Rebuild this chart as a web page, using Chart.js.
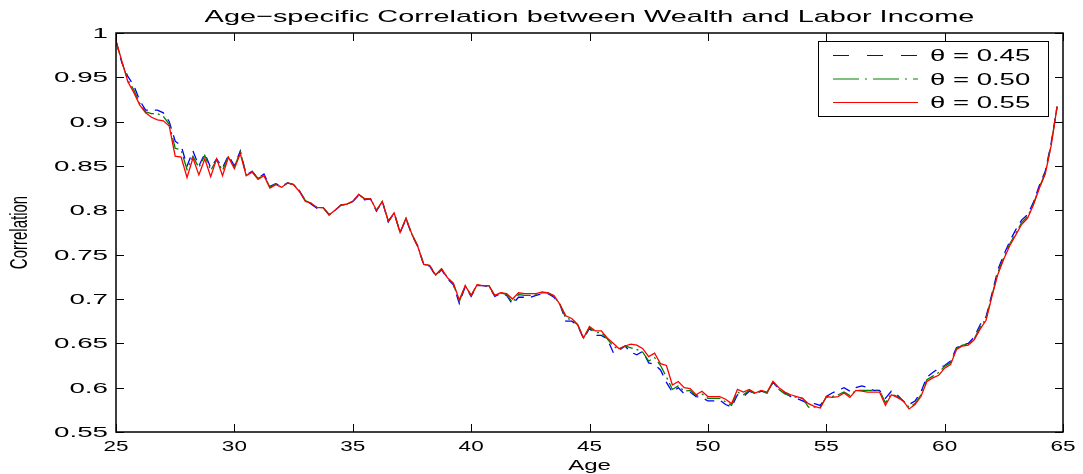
<!DOCTYPE html>
<html>
<head>
<meta charset="utf-8">
<script src="https://cdn.jsdelivr.net/npm/chart.js@4.4.0/dist/chart.umd.min.js"></script>
<style>
  html, body { margin: 0; padding: 0; background: #fff; }
</style>
</head>
<body>
<canvas id="chart" width="1083" height="474"></canvas>
<script>
// quarterly ages, 25 to 64.75
const ages = [
  25, 25.25, 25.5, 25.75, 26, 26.25, 26.5, 26.75, 27, 27.25, 27.5, 27.75,
  28, 28.25, 28.5, 28.75, 29, 29.25, 29.5, 29.75, 30, 30.25, 30.5, 30.75,
  31, 31.25, 31.5, 31.75, 32, 32.25, 32.5, 32.75, 33, 33.25, 33.5, 33.75,
  34, 34.25, 34.5, 34.75, 35, 35.25, 35.5, 35.75, 36, 36.25, 36.5, 36.75,
  37, 37.25, 37.5, 37.75, 38, 38.25, 38.5, 38.75, 39, 39.25, 39.5, 39.75,
  40, 40.25, 40.5, 40.75, 41, 41.25, 41.5, 41.75, 42, 42.25, 42.5, 42.75,
  43, 43.25, 43.5, 43.75, 44, 44.25, 44.5, 44.75, 45, 45.25, 45.5, 45.75,
  46, 46.25, 46.5, 46.75, 47, 47.25, 47.5, 47.75, 48, 48.25, 48.5, 48.75,
  49, 49.25, 49.5, 49.75, 50, 50.25, 50.5, 50.75, 51, 51.25, 51.5, 51.75,
  52, 52.25, 52.5, 52.75, 53, 53.25, 53.5, 53.75, 54, 54.25, 54.5, 54.75,
  55, 55.25, 55.5, 55.75, 56, 56.25, 56.5, 56.75, 57, 57.25, 57.5, 57.75,
  58, 58.25, 58.5, 58.75, 59, 59.25, 59.5, 59.75, 60, 60.25, 60.5, 60.75,
  61, 61.25, 61.5, 61.75, 62, 62.25, 62.5, 62.75, 63, 63.25, 63.5, 63.75,
  64, 64.25, 64.5, 64.75
];

// theta = 0.45 (blue dashed)
const corr045 = [
  0.991, 0.966, 0.951, 0.941, 0.924, 0.913, 0.913, 0.913, 0.910, 0.900, 0.878, 0.873,
  0.850, 0.867, 0.850, 0.864, 0.848, 0.858, 0.848, 0.862, 0.850, 0.867, 0.840, 0.844,
  0.836, 0.841, 0.827, 0.830, 0.827, 0.831, 0.829, 0.822, 0.811, 0.807, 0.802, 0.803,
  0.795, 0.800, 0.806, 0.807, 0.810, 0.817, 0.812, 0.813, 0.799, 0.810, 0.787, 0.797,
  0.775, 0.790, 0.772, 0.759, 0.738, 0.737, 0.726, 0.733, 0.723, 0.716, 0.695, 0.714,
  0.703, 0.715, 0.715, 0.714, 0.703, 0.706, 0.704, 0.694, 0.702, 0.702, 0.702, 0.704,
  0.706, 0.706, 0.702, 0.694, 0.675, 0.675, 0.670, 0.655, 0.667, 0.659, 0.659, 0.655,
  0.640, 0.642, 0.647, 0.640, 0.637, 0.641, 0.628, 0.626, 0.620, 0.606, 0.595, 0.600,
  0.593, 0.595, 0.590, 0.589, 0.585, 0.585, 0.586, 0.581, 0.578, 0.592, 0.590, 0.596,
  0.593, 0.596, 0.594, 0.606, 0.599, 0.594, 0.590, 0.588, 0.585, 0.582, 0.582, 0.580,
  0.590, 0.594, 0.597, 0.600, 0.596, 0.600, 0.602, 0.600, 0.597, 0.597, 0.588, 0.596,
  0.592, 0.585, 0.581, 0.585, 0.595, 0.612, 0.617, 0.622, 0.625, 0.630, 0.645, 0.648,
  0.650, 0.657, 0.671, 0.680, 0.706, 0.733, 0.750, 0.765, 0.778, 0.789, 0.795, 0.809,
  0.828, 0.844, 0.876, 0.917
];

// theta = 0.50 (green dash-dot)
const corr050 = [
  0.991, 0.967, 0.947, 0.936, 0.921, 0.911, 0.909, 0.909, 0.906, 0.897, 0.870, 0.868,
  0.846, 0.861, 0.848, 0.862, 0.845, 0.857, 0.845, 0.861, 0.849, 0.866, 0.840, 0.844,
  0.836, 0.840, 0.826, 0.830, 0.826, 0.831, 0.829, 0.822, 0.811, 0.808, 0.803, 0.803,
  0.795, 0.800, 0.806, 0.807, 0.810, 0.818, 0.813, 0.813, 0.800, 0.810, 0.788, 0.797,
  0.775, 0.791, 0.773, 0.760, 0.739, 0.738, 0.727, 0.734, 0.724, 0.717, 0.697, 0.715,
  0.704, 0.716, 0.715, 0.715, 0.704, 0.707, 0.705, 0.696, 0.705, 0.704, 0.704, 0.705,
  0.707, 0.707, 0.703, 0.694, 0.678, 0.677, 0.671, 0.656, 0.668, 0.662, 0.662, 0.655,
  0.647, 0.643, 0.647, 0.645, 0.643, 0.640, 0.630, 0.634, 0.625, 0.612, 0.598, 0.602,
  0.596, 0.597, 0.591, 0.593, 0.588, 0.588, 0.588, 0.584, 0.580, 0.595, 0.592, 0.597,
  0.593, 0.596, 0.594, 0.606, 0.598, 0.593, 0.591, 0.589, 0.588, 0.578, 0.578, 0.578,
  0.589, 0.590, 0.592, 0.595, 0.591, 0.597, 0.597, 0.597, 0.597, 0.597, 0.583, 0.593,
  0.590, 0.585, 0.578, 0.582, 0.592, 0.609, 0.613, 0.617, 0.624, 0.628, 0.644, 0.648,
  0.649, 0.655, 0.668, 0.678, 0.704, 0.730, 0.747, 0.762, 0.774, 0.786, 0.793, 0.807,
  0.826, 0.842, 0.874, 0.917
];

// theta = 0.55 (red solid)
const corr055 = [
  0.991, 0.968, 0.945, 0.933, 0.919, 0.910, 0.905, 0.902, 0.901, 0.895, 0.861, 0.860,
  0.837, 0.859, 0.840, 0.858, 0.838, 0.858, 0.839, 0.860, 0.847, 0.864, 0.839, 0.843,
  0.835, 0.839, 0.825, 0.829, 0.826, 0.831, 0.829, 0.821, 0.810, 0.808, 0.803, 0.803,
  0.795, 0.800, 0.806, 0.807, 0.810, 0.818, 0.813, 0.813, 0.800, 0.810, 0.788, 0.797,
  0.775, 0.791, 0.773, 0.759, 0.739, 0.738, 0.727, 0.734, 0.724, 0.718, 0.699, 0.715,
  0.704, 0.716, 0.715, 0.715, 0.704, 0.707, 0.706, 0.700, 0.707, 0.706, 0.706, 0.706,
  0.708, 0.707, 0.704, 0.694, 0.681, 0.678, 0.671, 0.656, 0.669, 0.664, 0.664, 0.656,
  0.650, 0.644, 0.647, 0.649, 0.648, 0.644, 0.635, 0.639, 0.627, 0.625, 0.603, 0.607,
  0.600, 0.599, 0.592, 0.596, 0.590, 0.590, 0.590, 0.587, 0.582, 0.598, 0.595, 0.598,
  0.594, 0.597, 0.595, 0.607, 0.600, 0.595, 0.592, 0.590, 0.588, 0.582, 0.579, 0.577,
  0.590, 0.589, 0.590, 0.594, 0.589, 0.597, 0.596, 0.595, 0.595, 0.595, 0.580, 0.592,
  0.589, 0.585, 0.576, 0.581, 0.590, 0.607, 0.611, 0.614, 0.622, 0.626, 0.643, 0.647,
  0.648, 0.654, 0.666, 0.676, 0.703, 0.728, 0.745, 0.760, 0.772, 0.784, 0.791, 0.806,
  0.825, 0.841, 0.873, 0.917
];

const seriesLabels = ['\u03b8 = 0.45', '\u03b8 = 0.50', '\u03b8 = 0.55'];
const xTicks = [25, 30, 35, 40, 45, 50, 55, 60, 65];
const yTicks = [0.55, 0.6, 0.65, 0.7, 0.75, 0.8, 0.85, 0.9, 0.95, 1];
const yTickLabels = ['0.55', '0.6', '0.65', '0.7', '0.75', '0.8', '0.85', '0.9', '0.95', '1'];

const titleText = 'Age\u2212specific Correlation between Wealth and Labor Income';
const FONT = '"Liberation Sans", Arial, sans-serif';

const styles = [
  { color: '#0000ff', dash: [10, 7], legendDash: [16, 18] },
  { color: '#008000', dash: [14, 4, 2, 4], legendDash: [26, 6, 2, 6] },
  { color: '#ff0000', dash: [], legendDash: [] }
];

function toPoints(vals) {
  return ages.map((a, i) => ({ x: a, y: vals[i] }));
}

// text squeezed/stretched horizontally like the original figure
function wideText(ctx, text, x, y, sx, align, baseline) {
  ctx.save();
  ctx.translate(x, y);
  ctx.scale(sx, 1);
  ctx.textAlign = align;
  ctx.textBaseline = baseline || 'alphabetic';
  ctx.fillText(text, 0, 0);
  ctx.restore();
}

const matlabFrame = {
  id: 'matlabFrame',
  afterDraw(chart) {
    const ctx = chart.ctx;
    const a = chart.chartArea;
    const xs = chart.scales.x, ys = chart.scales.y;
    ctx.save();
    ctx.fillStyle = '#000';
    ctx.strokeStyle = '#000';

    // box
    ctx.lineWidth = 1.5;
    ctx.strokeRect(a.left, a.top, a.right - a.left, a.bottom - a.top);

    // inward ticks on all four sides
    ctx.lineWidth = 1;
    const tl = 8;
    ctx.beginPath();
    xTicks.forEach(v => {
      const px = Math.round(xs.getPixelForValue(v)) + 0.5;
      ctx.moveTo(px, a.bottom); ctx.lineTo(px, a.bottom - tl);
      ctx.moveTo(px, a.top); ctx.lineTo(px, a.top + tl);
    });
    yTicks.forEach(v => {
      const py = Math.round(ys.getPixelForValue(v)) + 0.5;
      ctx.moveTo(a.left, py); ctx.lineTo(a.left + tl, py);
      ctx.moveTo(a.right, py); ctx.lineTo(a.right - tl, py);
    });
    ctx.stroke();

    // tick labels
    ctx.font = '15px ' + FONT;
    xTicks.forEach(v => {
      wideText(ctx, String(v), xs.getPixelForValue(v), a.bottom + 19, 1.5, 'center');
    });
    yTicks.forEach((v, i) => {
      wideText(ctx, yTickLabels[i], a.left - 8, ys.getPixelForValue(v) + 5, 1.85, 'right');
    });

    // axis titles
    ctx.font = '15px ' + FONT;
    wideText(ctx, 'Age', (a.left + a.right) / 2, 470, 1.6, 'center');
    ctx.save();
    ctx.translate(27, (a.top + a.bottom) / 2);
    ctx.scale(1.6, 1);
    ctx.rotate(-Math.PI / 2);
    ctx.textAlign = 'center';
    ctx.textBaseline = 'alphabetic';
    ctx.fillText('Correlation', 0, 0);
    ctx.restore();

    // title
    ctx.font = '17px ' + FONT;
    wideText(ctx, titleText, (a.left + a.right) / 2, 22, 1.7, 'center');

    // legend
    const lx = 818, ly = 41, lw = 230, lh = 75;
    ctx.fillStyle = '#fff';
    ctx.fillRect(lx, ly, lw, lh);
    ctx.lineWidth = 1;
    ctx.strokeRect(lx + 0.5, ly + 0.5, lw, lh);
    ctx.font = '16px ' + FONT;
    seriesLabels.forEach((lab, i) => {
      const yy = ly + 14 + i * 23.5;
      ctx.strokeStyle = styles[i].color;
      ctx.lineWidth = 1.2;
      ctx.setLineDash(styles[i].legendDash);
      ctx.beginPath();
      ctx.moveTo(833, yy + 0.5); ctx.lineTo(918, yy + 0.5);
      ctx.stroke();
      ctx.setLineDash([]);
      ctx.fillStyle = '#000';
      wideText(ctx, lab, 930, yy + 6, 1.72, 'left');
    });
    ctx.restore();
  }
};

new Chart(document.getElementById('chart'), {
  type: 'line',
  data: {
    datasets: [corr045, corr050, corr055].map((vals, i) => ({
      label: seriesLabels[i],
      data: toPoints(vals),
      borderColor: styles[i].color,
      borderDash: styles[i].dash,
      borderWidth: 1.3,
      pointRadius: 0,
      tension: 0,
      fill: false,
      order: 2 - i
    }))
  },
  options: {
    responsive: false,
    devicePixelRatio: 1,
    animation: false,
    layout: { padding: { top: 33, right: 20, left: 0, bottom: 0 } },
    scales: {
      x: {
        type: 'linear', min: 25, max: 65,
        ticks: { display: false, stepSize: 5 },
        grid: { display: false },
        border: { display: false },
        afterFit: s => { s.height = 42; }
      },
      y: {
        min: 0.55, max: 1,
        ticks: { display: false, stepSize: 0.05 },
        grid: { display: false },
        border: { display: false },
        afterFit: s => { s.width = 116; }
      }
    },
    plugins: {
      legend: { display: false },
      title: { display: false },
      tooltip: { enabled: false }
    }
  },
  plugins: [matlabFrame]
});
</script>
</body>
</html>
